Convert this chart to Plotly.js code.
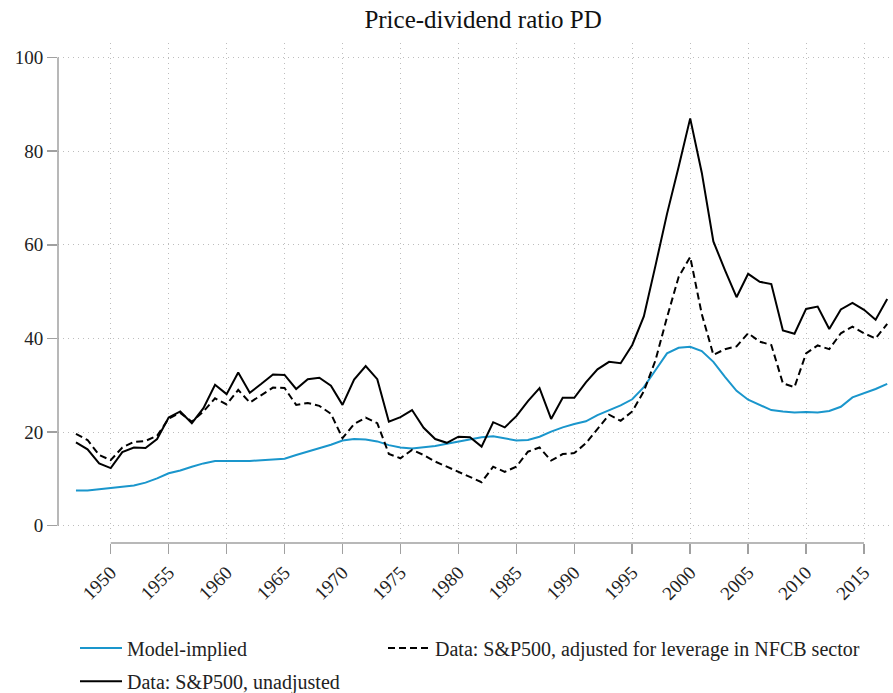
<!DOCTYPE html>
<html>
<head>
<meta charset="utf-8">
<script src="https://cdn.plot.ly/plotly-3.0.1.min.js"></script>
<style>html,body{margin:0;padding:0;background:#fff;}#chart{width:893px;height:693px;}</style>
</head>
<body>
<div id="chart"></div>
<script>
const years = [];
for (let y = 1947; y <= 2017; y++) years.push(y);

const modelImplied = [7.5,7.5,7.8,8.1,8.3,8.6,9.2,10.1,11.2,11.8,
  12.6,13.3,13.8,13.8,13.8,13.8,14.0,14.2,14.3,15.1,
  15.8,16.5,17.3,18.2,18.5,18.4,18.0,17.2,16.7,16.5,
  16.8,17.0,17.5,18.0,18.4,18.9,19.1,18.7,18.2,18.3,
  19.0,20.1,21.0,21.7,22.3,23.6,24.6,25.7,27.0,29.6,
  33.2,36.8,38.0,38.2,37.3,35.0,31.8,28.8,26.9,25.8,
  24.7,24.4,24.2,24.3,24.2,24.5,25.4,27.4,28.3,29.2,30.3];

const unadjusted = [17.8,16.3,13.3,12.3,15.7,16.7,16.6,18.5,23.1,24.4,
  21.9,25.1,30.1,28.1,32.7,28.4,30.3,32.3,32.2,29.2,
  31.3,31.6,29.9,25.8,31.2,34.1,31.3,22.2,23.2,24.7,
  20.9,18.5,17.7,19.0,18.9,16.9,22.1,21.0,23.4,26.6,
  29.4,22.8,27.3,27.3,30.6,33.4,35.0,34.7,38.6,44.7,
  55.5,66.6,76.6,87.0,75.4,60.7,54.6,48.8,53.8,52.1,
  51.6,41.7,41.0,46.3,46.8,42.0,46.2,47.6,46.1,44.0,48.4];

const adjusted = [19.6,18.3,15.1,14.0,16.7,17.9,18.1,19.2,22.9,24.1,
  22.2,24.4,27.2,25.9,29.0,26.3,27.9,29.5,29.4,25.8,
  26.2,25.6,23.9,18.7,21.7,23.1,21.9,15.3,14.4,16.2,
  15.1,13.7,12.6,11.5,10.3,9.3,12.6,11.5,12.6,15.8,
  16.7,13.9,15.3,15.5,17.6,20.6,23.7,22.4,24.4,28.7,
  35.3,44.5,53.1,57.4,45.2,36.5,37.7,38.3,41.1,39.3,
  38.6,30.4,29.6,36.8,38.5,37.7,41.1,42.5,41.1,40.0,43.1];

const xTicks = [1950,1955,1960,1965,1970,1975,1980,1985,1990,1995,2000,2005,2010,2015];
const yTicks = [0,20,40,60,80,100];

const FONT = 'Liberation Serif, Times New Roman, serif';
const AXIS = '#a0a0a0';
const GRID = '#bdbdbd';

const traces = [
  {x: years, y: modelImplied, type: 'scatter', mode: 'lines', name: 'Model-implied',
   line: {color: '#1a96cc', width: 2}, legend: 'legend'},
  {x: years, y: adjusted, type: 'scatter', mode: 'lines', name: 'Data: S&P500, adjusted for leverage in NFCB sector',
   line: {color: '#000000', width: 2, dash: '7px,4px'}, legend: 'legend3'},
  {x: years, y: unadjusted, type: 'scatter', mode: 'lines', name: 'Data: S&P500, unadjusted',
   line: {color: '#000000', width: 2}, legend: 'legend2'}
];

function leg(x, y) {
  return {orientation: 'h', x: x, xref: 'container', y: y, yref: 'container',
          xanchor: 'left', yanchor: 'middle', itemwidth: 42,
          font: {family: FONT, size: 20, color: '#222'}, bgcolor: 'rgba(0,0,0,0)'};
}

const layout = {
  width: 893, height: 693,
  margin: {l: 58, r: 0, t: 43, b: 150},
  paper_bgcolor: '#ffffff', plot_bgcolor: '#ffffff',
  font: {family: FONT, size: 18, color: '#222'},
  title: {text: 'Price-dividend ratio PD', x: 0.541, xref: 'container', xanchor: 'center',
          y: 0.972, yref: 'container', yanchor: 'middle', font: {family: FONT, size: 25, color: '#111'}},
  xaxis: {range: [1945.45, 2017.5], tickvals: xTicks, ticktext: xTicks.map(String),
          tickangle: -45, ticks: 'outside', ticklen: 10, tickwidth: 1.5, tickcolor: AXIS,
          showline: false, zeroline: false, showgrid: true, gridcolor: GRID, gridwidth: 1,
          griddash: '1px,4px', tickfont: {family: FONT, size: 19, color: '#222'}},
  yaxis: {range: [-3.7, 103.1], tickvals: yTicks, ticktext: yTicks.map(String),
          ticks: 'outside', ticklen: 10, tickwidth: 1.5, tickcolor: AXIS,
          showline: false, zeroline: false, showgrid: true, gridcolor: GRID, gridwidth: 1,
          griddash: '1px,4px', tickfont: {family: FONT, size: 19, color: '#222'}},
  shapes: [
    {type: 'line', xref: 'paper', yref: 'y', x0: 0, x1: 0, y0: 0, y1: 100,
     line: {color: AXIS, width: 1.5}},
    {type: 'line', xref: 'x', yref: 'paper', x0: 1950, x1: 2015, y0: 0, y1: 0,
     line: {color: AXIS, width: 1.5}}
  ],
  legend: leg(75 / 893, 0.065),
  legend2: leg(75 / 893, 0.017),
  legend3: leg(383 / 893, 0.065),
  showlegend: true
};

Plotly.newPlot('chart', traces, layout, {displayModeBar: false, staticPlot: true});
</script>
</body>
</html>
